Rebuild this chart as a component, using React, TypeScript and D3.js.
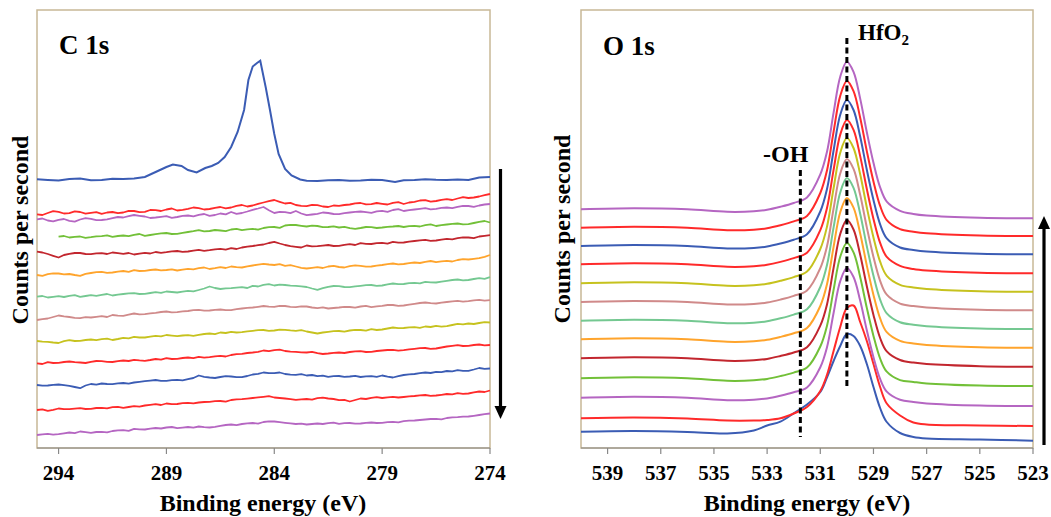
import * as d3 from 'd3';

// ---- C 1s panel data (counts per second, arbitrary units, stacked) ----
const C_TICKS = [294, 289, 284, 279, 274];

const C_TOP_E = [295, 294.5, 294, 293.5, 293, 292.5, 292, 291.5, 291, 290.5, 290, 289.5, 289, 288.7, 288.3, 288, 287.6, 287.2, 286.9, 286.6, 286.3, 286, 285.7, 285.4, 285.2, 285, 284.8, 284.65, 284.4, 284.2, 284, 283.8, 283.5, 283.2, 282.8, 282.5, 282, 281.5, 281, 280.5, 280, 279.5, 279, 278.4, 278, 277.5, 277, 276.5, 276, 275.5, 275, 274.5, 274];
const C_TOP = [26.87, 26.8, 26.75, 26.9, 26.95, 26.78, 26.8, 26.92, 26.9, 26.95, 27.1, 27.6, 28.1, 28.35, 28.2, 27.8, 27.55, 28.0, 28.2, 28.5, 29.1, 30.1, 31.6, 33.8, 36.8, 38.15, 38.5, 38.73, 36.1, 33.8, 31.4, 29.4, 27.9, 27.25, 26.85, 26.72, 26.7, 26.78, 26.8, 26.72, 26.75, 26.82, 26.8, 26.6, 26.78, 26.8, 26.88, 26.82, 26.8, 26.85, 26.8, 27.05, 27.1];

const C_E = [295, 294.75, 294.5, 294.25, 294, 293.75, 293.5, 293.25, 293, 292.75, 292.5, 292.25, 292, 291.75, 291.5, 291.25, 291, 290.75, 290.5, 290.25, 290, 289.75, 289.5, 289.25, 289, 288.75, 288.5, 288.25, 288, 287.75, 287.5, 287.25, 287, 286.75, 286.5, 286.25, 286, 285.75, 285.5, 285.25, 285, 284.75, 284.5, 284.25, 284, 283.75, 283.5, 283.25, 283, 282.75, 282.5, 282.25, 282, 281.75, 281.5, 281.25, 281, 280.75, 280.5, 280.25, 280, 279.75, 279.5, 279.25, 279, 278.75, 278.5, 278.25, 278, 277.75, 277.5, 277.25, 277, 276.75, 276.5, 276.25, 276, 275.75, 275.5, 275.25, 275, 274.75, 274.5, 274.25, 274];

const C_RED_1 = [23.37, 23.3, 23.5, 23.68, 23.62, 23.45, 23.48, 23.66, 23.6, 23.44, 23.52, 23.58, 23.42, 23.55, 23.6, 23.48, 23.55, 23.72, 23.7, 23.58,
  23.62, 23.8, 23.78, 23.7, 23.85, 23.95, 23.75, 23.82, 23.92, 24.05, 23.98, 23.85, 23.9, 24.02, 24.1, 23.96, 24.05, 24.22, 24.3, 24.15,
  24.25, 24.42, 24.55, 24.68, 24.8, 24.62, 24.45, 24.52, 24.3, 24.22, 24.18, 24.32, 24.28, 24.15, 24.1, 24.25, 24.22, 24.3, 24.35, 24.46,
  24.5, 24.36, 24.38, 24.5, 24.42, 24.35, 24.52, 24.58, 24.4, 24.55, 24.62, 24.75, 24.78, 24.64, 24.7, 24.82, 24.88, 24.8, 24.95, 25.08,
  25.0, 25.05, 25.15, 25.28, 25.4];
const C_PURPLE_2 = [22.87, 22.95, 22.75, 22.66, 22.82, 22.9, 22.72, 22.64, 22.85, 22.98, 22.92, 22.78, 22.8, 22.86, 22.98, 23.1, 23.05, 23.18, 23.3, 23.22,
  23.15, 23.0, 23.05, 23.12, 23.18, 23.02, 23.1, 23.22, 23.25, 23.16, 23.32, 23.4, 23.22, 23.3, 23.45, 23.36, 23.6, 23.42, 23.5, 23.65,
  23.82, 23.95, 24.1, 23.78, 23.5, 23.62, 23.58, 23.48, 23.7, 23.45, 23.28, 23.35, 23.42, 23.55, 23.5, 23.4, 23.38, 23.48, 23.55, 23.62,
  23.65, 23.58, 23.52, 23.66, 23.72, 23.62, 23.8, 23.88, 23.7, 23.78, 23.85, 23.92, 23.98, 23.86, 23.92, 24.02, 24.05, 23.98, 24.12, 24.22,
  24.2, 24.12, 24.25, 24.35, 24.4];
const C_GREEN_3 = [null, null, null, null, 21.13, 21.2, 21.05, 21.12, 21.15, 21.02, 21.08, 21.16, 21.18, 21.26, 21.12, 21.2, 21.25, 21.18, 21.32, 21.4,
  21.22, 21.3, 21.38, 21.46, 21.5, 21.4, 21.42, 21.52, 21.6, 21.68, 21.78, 21.66, 21.7, 21.8, 21.75, 21.68, 21.85, 21.92, 21.78, 21.86,
  21.92, 21.84, 22.0, 22.08, 22.1, 22.02, 22.25, 22.32, 22.3, 22.22, 22.15, 22.24, 22.2, 22.08, 22.1, 22.16, 22.05, 22.12, 21.98, 21.92,
  22.0, 22.1, 22.08, 22.0, 22.05, 22.12, 22.15, 22.2, 22.1, 22.18, 22.22, 22.15, 22.28, 22.36, 22.2, 22.28, 22.35, 22.42, 22.45, 22.36,
  22.38, 22.5, 22.62, 22.7, 22.55];
const C_DARKRED_4 = [19.63, 19.55, 19.4, 19.22, 19.05, 19.3, 19.42, 19.5, 19.5, 19.4, 19.38, 19.46, 19.48, 19.4, 19.55, 19.48, 19.42, 19.5, 19.35, 19.44,
  19.52, 19.45, 19.6, 19.52, 19.58, 19.66, 19.7, 19.62, 19.65, 19.74, 19.82, 19.72, 19.78, 19.86, 19.92, 19.84, 19.98, 19.9, 20.05, 20.14,
  20.2, 20.28, 20.35, 20.5, 20.62, 20.45, 20.3, 20.18, 20.12, 20.05, 20.25, 20.16, 20.18, 20.24, 20.3, 20.2, 20.22, 20.32, 20.38, 20.3,
  20.48, 20.42, 20.4, 20.48, 20.52, 20.44, 20.62, 20.54, 20.55, 20.64, 20.7, 20.76, 20.82, 20.72, 20.75, 20.84, 20.92, 20.86, 20.98, 21.06,
  21.05, 20.98, 21.15, 21.22, 21.28];
const C_ORANGE_5 = [17.3, 17.22, 17.38, 17.46, 17.45, 17.36, 17.4, 17.3, 17.22, 17.42, 17.5, 17.58, 17.62, 17.52, 17.55, 17.64, 17.7, 17.62, 17.78, 17.7,
  17.72, 17.8, 17.85, 17.76, 17.8, 17.86, 17.75, 17.84, 17.92, 17.86, 17.98, 18.05, 17.9, 17.98, 18.08, 18.0, 18.15, 18.08, 18.05, 18.16,
  18.25, 18.34, 18.42, 18.35, 18.3, 18.38, 18.22, 18.28, 18.15, 18.02, 17.95, 18.02, 18.08, 18.0, 18.15, 18.22, 18.1, 18.05, 18.18, 18.26,
  18.22, 18.14, 18.15, 18.24, 18.3, 18.38, 18.45, 18.36, 18.4, 18.48, 18.55, 18.5, 18.62, 18.7, 18.58, 18.66, 18.72, 18.65, 18.8, 18.88,
  18.85, 18.92, 18.98, 19.12, 19.3];
const C_TEAL_6 = [15.13, 15.2, 15.05, 15.12, 15.18, 15.1, 15.22, 15.28, 15.12, 15.2, 15.28, 15.22, 15.32, 15.4, 15.25, 15.34, 15.4, 15.46, 15.48, 15.4,
  15.42, 15.5, 15.58, 15.52, 15.65, 15.6, 15.55, 15.64, 15.72, 15.66, 15.8, 15.95, 16.15, 16.0, 15.9, 15.96, 15.98, 16.04, 16.08, 16.0,
  16.22, 16.15, 16.32, 16.38, 16.25, 16.34, 16.3, 16.24, 16.22, 16.16, 16.1, 15.95, 15.82, 15.98, 16.12, 16.2, 16.18, 16.1, 16.08, 16.16,
  16.22, 16.28, 16.3, 16.22, 16.25, 16.36, 16.45, 16.38, 16.4, 16.48, 16.52, 16.46, 16.62, 16.56, 16.55, 16.64, 16.72, 16.8, 16.85, 16.76,
  16.8, 16.9, 16.98, 16.92, 17.08];
const C_ROSY_7 = [12.8, 12.88, 12.95, 13.1, 13.25, 13.16, 13.1, 13.02, 12.98, 13.08, 13.05, 13.12, 13.18, 13.1, 13.3, 13.24, 13.22, 13.34, 13.45, 13.36,
  13.38, 13.46, 13.52, 13.6, 13.65, 13.56, 13.58, 13.66, 13.7, 13.78, 13.82, 13.74, 13.75, 13.82, 13.85, 13.78, 13.78, 13.88, 13.95, 14.02,
  14.05, 14.12, 14.2, 14.14, 14.12, 14.22, 14.2, 14.12, 14.08, 14.16, 14.15, 14.05, 13.98, 14.06, 13.95, 14.0, 14.05, 14.12, 14.1, 14.04,
  14.15, 14.22, 14.08, 14.16, 14.22, 14.3, 14.3, 14.22, 14.25, 14.34, 14.42, 14.5, 14.55, 14.48, 14.45, 14.54, 14.6, 14.66, 14.72, 14.64,
  14.68, 14.76, 14.82, 14.74, 14.78];
const C_OLIVE_8 = [10.7, 10.64, 10.62, 10.55, 10.5, 10.68, 10.78, 10.7, 10.72, 10.8, 10.85, 10.78, 10.88, 10.94, 10.8, 10.9, 11.02, 10.96, 11.12, 11.05,
  11.05, 11.14, 11.22, 11.16, 11.3, 11.24, 11.18, 11.25, 11.28, 11.22, 11.32, 11.4, 11.45, 11.38, 11.55, 11.5, 11.62, 11.55, 11.58, 11.66,
  11.72, 11.78, 11.8, 11.72, 11.75, 11.84, 11.82, 11.76, 11.72, 11.78, 11.65, 11.55, 11.45, 11.55, 11.62, 11.68, 11.7, 11.64, 11.75, 11.82,
  11.8, 11.74, 11.88, 11.8, 11.85, 11.95, 12.05, 11.98, 12.0, 12.06, 12.08, 12.02, 12.15, 12.1, 12.22, 12.14, 12.18, 12.3, 12.42, 12.36,
  12.45, 12.4, 12.5, 12.58, 12.55];
const C_RED_9 = [8.47, 8.4, 8.58, 8.5, 8.52, 8.6, 8.65, 8.58, 8.55, 8.5, 8.62, 8.7, 8.68, 8.62, 8.6, 8.68, 8.75, 8.7, 8.82, 8.76,
  8.72, 8.8, 8.9, 8.84, 8.98, 8.9, 8.92, 9.0, 9.05, 8.98, 9.12, 9.04, 9.08, 9.16, 9.22, 9.15, 9.3, 9.38, 9.42, 9.5,
  9.55, 9.62, 9.75, 9.68, 9.78, 9.84, 9.7, 9.64, 9.62, 9.56, 9.55, 9.62, 9.48, 9.4, 9.45, 9.52, 9.55, 9.5, 9.6, 9.66,
  9.68, 9.6, 9.62, 9.7, 9.75, 9.8, 9.82, 9.74, 9.78, 9.86, 9.92, 9.98, 10.0, 9.92, 9.95, 10.05, 10.15, 10.22, 10.28, 10.2,
  10.22, 10.3, 10.35, 10.26, 10.3];
const C_BLUE_10 = [6.3, 6.24, 6.25, 6.32, 6.35, 6.28, 6.22, 6.1, 5.98, 6.25, 6.4, 6.34, 6.45, 6.4, 6.38, 6.46, 6.5, 6.44, 6.55, 6.62,
  6.68, 6.74, 6.8, 6.72, 6.72, 6.78, 6.82, 6.76, 6.88, 7.0, 7.25, 7.12, 7.05, 7.0, 7.1, 7.18, 7.15, 7.08, 7.08, 7.2,
  7.35, 7.42, 7.55, 7.48, 7.48, 7.55, 7.4, 7.34, 7.32, 7.38, 7.25, 7.3, 7.18, 7.24, 7.12, 7.18, 7.2, 7.12, 7.15, 7.22,
  7.1, 7.16, 7.18, 7.12, 7.25, 7.14, 7.05, 7.18, 7.3, 7.36, 7.4, 7.48, 7.55, 7.5, 7.62, 7.58, 7.7, 7.66, 7.78, 7.72,
  7.72, 7.85, 8.0, 7.92, 7.95];
const C_RED_11 = [3.8, 3.86, 3.72, 3.82, 3.95, 3.88, 3.88, 3.94, 3.98, 3.9, 3.92, 4.0, 4.02, 3.96, 4.08, 4.12, 4.02, 4.1, 4.18, 4.14,
  4.25, 4.32, 4.38, 4.3, 4.45, 4.38, 4.4, 4.48, 4.52, 4.46, 4.55, 4.6, 4.62, 4.68, 4.7, 4.64, 4.8, 4.86, 4.88, 4.94,
  5.0, 5.06, 5.12, 5.18, 5.05, 5.0, 4.95, 4.88, 4.82, 4.86, 4.9, 4.84, 4.98, 5.04, 4.95, 4.9, 4.78, 4.82, 4.65, 4.8,
  4.95, 4.9, 5.02, 5.08, 5.0, 5.06, 5.12, 5.05, 5.1, 5.16, 5.2, 5.26, 5.3, 5.22, 5.25, 5.32, 5.4, 5.36, 5.48, 5.42,
  5.45, 5.56, 5.65, 5.6, 5.75];
const C_PURPLE_12 = [1.3, 1.36, 1.42, 1.34, 1.38, 1.46, 1.55, 1.48, 1.65, 1.58, 1.52, 1.6, 1.62, 1.56, 1.7, 1.76, 1.78, 1.72, 1.92, 1.86,
  1.85, 1.94, 2.0, 1.95, 2.05, 2.1, 1.98, 2.04, 2.1, 2.04, 2.15, 2.08, 2.05, 2.12, 2.22, 2.3, 2.35, 2.28, 2.4, 2.46,
  2.5, 2.44, 2.6, 2.66, 2.65, 2.58, 2.52, 2.46, 2.4, 2.44, 2.35, 2.4, 2.45, 2.4, 2.48, 2.54, 2.42, 2.48, 2.5, 2.44,
  2.45, 2.52, 2.55, 2.5, 2.52, 2.58, 2.62, 2.56, 2.68, 2.74, 2.75, 2.8, 2.85, 2.9, 2.92, 2.86, 3.0, 3.06, 3.08, 3.14,
  3.15, 3.22, 3.3, 3.38, 3.45];

// ---- O 1s panel data ----
const O_TICKS = [539, 537, 535, 533, 531, 529, 527, 525, 523];
const O_E = [540, 538, 536, 534.5, 533.5, 533, 532.5, 532, 531.5, 531, 530.75, 530.5, 530.25, 530, 529.75, 529.5, 529.25, 529, 528.75, 528.5, 528, 527.5, 527, 525, 523];
const O_BLUE_0 = [1.63, 1.7, 1.6, 1.45, 1.75, 2.25, 2.63, 3.47, 4.35, 5.6, 7.05, 8.7, 10.2, 11.4, 11.2, 10.2, 8.4, 6.1, 4.0, 2.6, 1.5, 1.1, 0.95, 0.85, 0.73];
const O_RED_1 = [2.97, 3.05, 2.95, 2.75, 2.75, 2.8, 2.97, 3.45, 4.1, 5.7, 7.3, 9.7, 12.1, 14.0, 14.25, 12.6, 10.7, 8.4, 6.1, 4.45, 3.25, 2.55, 2.35, 2.25, 2.2];
const O_PURPLE_2 = [5.03, 5.13, 5.03, 4.78, 4.83, 4.96, 5.23, 5.57, 6.05, 8.07, 10.05, 13.5, 16.68, 18.0, 17.1, 14.74, 11.77, 9.08, 6.91, 5.64, 4.83, 4.6, 4.46, 4.25, 4.2];
const O_GREEN_3 = [6.97, 7.07, 6.97, 6.72, 6.77, 6.91, 7.19, 7.54, 8.04, 10.15, 12.21, 15.81, 19.13, 20.5, 19.56, 17.11, 14.01, 11.21, 8.95, 7.63, 6.79, 6.61, 6.46, 6.25, 6.2];
const O_DARKRED_4 = [8.97, 9.07, 8.97, 8.72, 8.77, 8.91, 9.2, 9.55, 10.07, 12.23, 14.33, 18.01, 21.4, 22.8, 21.85, 19.33, 16.17, 13.31, 11.0, 9.66, 8.8, 8.54, 8.39, 8.18, 8.13];
const O_ORANGE_5 = [10.87, 10.97, 10.87, 10.62, 10.67, 10.82, 11.11, 11.47, 12.0, 14.2, 16.35, 20.11, 23.57, 25.0, 24.03, 21.46, 18.24, 15.31, 12.96, 11.58, 10.71, 10.45, 10.3, 10.08, 10.03];
const O_TEAL_6 = [12.73, 12.83, 12.73, 12.48, 12.53, 12.68, 12.97, 13.34, 13.87, 16.1, 18.27, 22.06, 25.55, 27.0, 26.02, 23.43, 20.17, 17.22, 14.84, 13.46, 12.57, 12.32, 12.17, 11.95, 11.9];
const O_ROSY_7 = [14.6, 14.7, 14.6, 14.35, 14.4, 14.55, 14.84, 15.21, 15.75, 17.98, 20.15, 23.95, 27.45, 28.9, 27.91, 25.32, 22.06, 19.1, 16.72, 15.33, 14.44, 14.19, 14.04, 13.82, 13.77];
const O_OLIVE_8 = [16.47, 16.57, 16.47, 16.22, 16.27, 16.42, 16.72, 17.09, 17.64, 19.9, 22.11, 25.97, 29.53, 31.0, 30.0, 27.37, 24.05, 21.05, 18.63, 17.22, 16.32, 16.05, 15.9, 15.68, 15.63];
const O_RED_9 = [18.37, 18.47, 18.37, 18.12, 18.17, 18.32, 18.61, 18.99, 19.53, 21.78, 23.97, 27.81, 31.34, 32.8, 31.81, 29.19, 25.9, 22.91, 20.51, 19.11, 18.21, 17.89, 17.74, 17.52, 17.47];
const O_BLUE_10 = [20.2, 20.3, 20.2, 19.95, 20.0, 20.15, 20.45, 20.83, 21.38, 23.65, 25.87, 29.75, 33.32, 34.8, 33.8, 31.15, 27.82, 24.8, 22.37, 20.96, 20.05, 19.8, 19.64, 19.42, 19.37];
const O_RED_11 = [22.03, 22.13, 22.03, 21.78, 21.83, 21.98, 22.28, 22.66, 23.21, 25.5, 27.73, 31.63, 35.21, 36.7, 35.69, 33.03, 29.69, 26.65, 24.21, 22.79, 21.88, 21.63, 21.47, 21.25, 21.2];
const O_PURPLE_12 = [23.87, 23.97, 23.87, 23.62, 23.67, 23.82, 24.12, 24.5, 25.06, 27.36, 29.6, 33.53, 37.13, 38.63, 37.61, 34.94, 31.58, 28.52, 26.07, 24.64, 23.72, 23.4, 23.24, 23.02, 22.97];

// marker lines (energy, low and high count)
const HFO2_MARK = { energy: 530, from: 6.0, to: 41.0 };
const OH_MARK = { energy: 531.75, from: 1.1, to: 27.8 };

const COLORS = ['#3b5cb4', '#ff2a2a', '#b566c2', '#72c038', '#c2262e', '#ffa42c', '#74c891', '#d08a8a', '#c6c21e', '#ff2a2a', '#3b5cb4', '#ff2a2a', '#b566c2'];

const C_SERIES = [C_RED_1, C_PURPLE_2, C_GREEN_3, C_DARKRED_4, C_ORANGE_5, C_TEAL_6, C_ROSY_7, C_OLIVE_8, C_RED_9, C_BLUE_10, C_RED_11, C_PURPLE_12];
const O_SERIES = [O_BLUE_0, O_RED_1, O_PURPLE_2, O_GREEN_3, O_DARKRED_4, O_ORANGE_5, O_TEAL_6, O_ROSY_7, O_OLIVE_8, O_RED_9, O_BLUE_10, O_RED_11, O_PURPLE_12];

const FONT = '"Liberation Serif", "Times New Roman", serif';
const FRAME = '#c8b896';
const AXIS = '#888888';

const top = 10;
const bottom = 448;

export default function App() {
  const xC = d3.scaleLinear().domain([295, 274]).range([37, 490]);
  const xO = d3.scaleLinear().domain([540, 523]).range([581, 1033]);
  const y = d3.scaleLinear().domain([0, 43.8]).range([bottom, top]);

  const lineFor = (xs: number[], x: d3.ScaleLinear<number, number>, curve: d3.CurveFactory) =>
    d3.line<number | null>()
      .defined((d, i) => d != null && i < xs.length)
      .x((_, i) => x(xs[i]))
      .y((d) => y(d as number))
      .curve(curve);

  const cLine = lineFor(C_E, xC, d3.curveLinear);
  const cTopLine = lineFor(C_TOP_E, xC, d3.curveLinear);
  const oLine = lineFor(O_E, xO, d3.curveCatmullRom);

  const axisLabel = { fontFamily: FONT, fontWeight: 700, fill: '#000' } as const;

  return (
    <svg width={1051} height={517} style={{ position: 'absolute', left: 0, top: 0, background: '#fff' }}>
      {/* ---------- C 1s ---------- */}
      <rect x={37} y={top} width={453} height={bottom - top} fill="none" stroke={FRAME} strokeWidth={1.5} />
      <line x1={37} x2={490} y1={bottom} y2={bottom} stroke={AXIS} strokeWidth={1.2} />
      {C_TICKS.map((t) => (
        <g key={t}>
          <line x1={xC(t)} x2={xC(t)} y1={bottom} y2={bottom + 6} stroke={AXIS} strokeWidth={1.2} />
          <text x={xC(t)} y={480} textAnchor="middle" fontSize={21} {...axisLabel}>{t}</text>
        </g>
      ))}
      <path d={cTopLine(C_TOP) || ''} fill="none" stroke={COLORS[0]} strokeWidth={2} />
      {C_SERIES.map((s, i) => (
        <path key={i} d={cLine(s) || ''} fill="none" stroke={COLORS[i + 1]} strokeWidth={1.8} strokeLinejoin="round" />
      ))}
      <text x={59} y={54} fontSize={27} {...axisLabel}>C 1s</text>
      <text x={263} y={511} textAnchor="middle" fontSize={24} {...axisLabel}>Binding energy (eV)</text>
      <text transform="translate(28,230) rotate(-90)" textAnchor="middle" fontSize={24} {...axisLabel}>Counts per second</text>
      <line x1={500.5} x2={500.5} y1={169} y2={407} stroke="#000" strokeWidth={3.2} />
      <polygon points="494.5,406 506.5,406 500.5,419" fill="#000" />

      {/* ---------- O 1s ---------- */}
      <rect x={581} y={top} width={452} height={bottom - top} fill="none" stroke={FRAME} strokeWidth={1.5} />
      <line x1={581} x2={1033} y1={bottom} y2={bottom} stroke={AXIS} strokeWidth={1.2} />
      {O_TICKS.map((t) => (
        <g key={t}>
          <line x1={xO(t)} x2={xO(t)} y1={bottom} y2={bottom + 6} stroke={AXIS} strokeWidth={1.2} />
          <text x={xO(t)} y={480} textAnchor="middle" fontSize={21} {...axisLabel}>{t}</text>
        </g>
      ))}
      {O_SERIES.map((s, i) => (
        <path key={i} d={oLine(s) || ''} fill="none" stroke={COLORS[i]} strokeWidth={2} />
      ))}
      <line x1={xO(HFO2_MARK.energy)} x2={xO(HFO2_MARK.energy)} y1={y(HFO2_MARK.to)} y2={y(HFO2_MARK.from)}
        stroke="#000" strokeWidth={3} strokeDasharray="6 3.5" />
      <line x1={xO(OH_MARK.energy)} x2={xO(OH_MARK.energy)} y1={y(OH_MARK.to)} y2={y(OH_MARK.from)}
        stroke="#000" strokeWidth={3} strokeDasharray="6 3.5" />
      <text x={603} y={55} fontSize={27} {...axisLabel}>O 1s</text>
      <text x={858} y={40} fontSize={23} {...axisLabel}>HfO<tspan fontSize={15} dy={5}>2</tspan></text>
      <text x={763} y={162} fontSize={24} {...axisLabel}>-OH</text>
      <text x={807} y={511} textAnchor="middle" fontSize={24} {...axisLabel}>Binding energy (eV)</text>
      <text transform="translate(570,229) rotate(-90)" textAnchor="middle" fontSize={24} {...axisLabel}>Counts per second</text>
      <line x1={1044} x2={1044} y1={445} y2={228} stroke="#000" strokeWidth={3.2} />
      <polygon points="1038,229 1050,229 1044,216" fill="#000" />
    </svg>
  );
}
